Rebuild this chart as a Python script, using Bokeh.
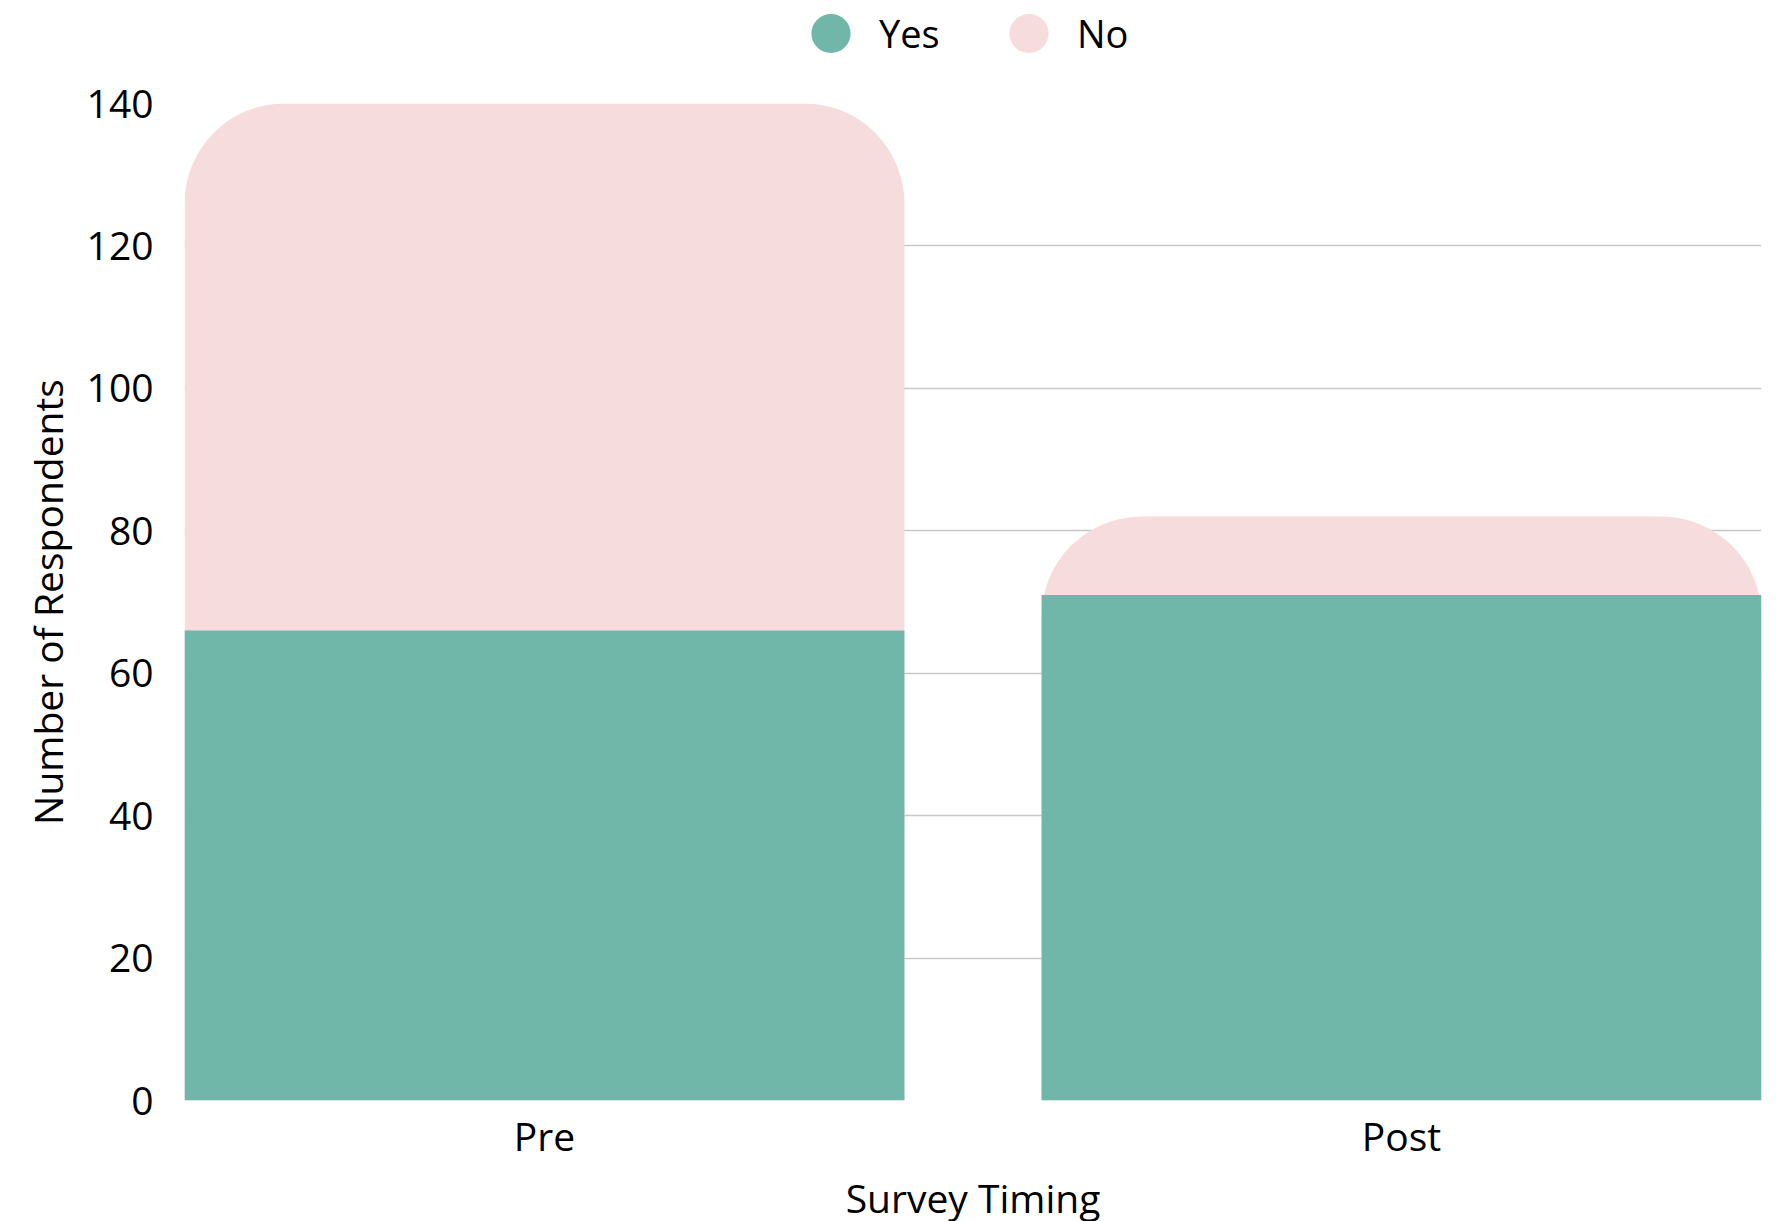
from bokeh.plotting import figure
from bokeh.layouts import column
from bokeh.models import (ColumnDataSource, Range1d, FixedTicker, Legend, LegendItem)
from bokeh.embed import file_html
from bokeh.resources import INLINE

# ---- data ----
categories = ["Pre", "Post"]
yes_counts = [66, 71]
no_counts = [74, 11]
series_names = ["Yes", "No"]
y_ticks = [0, 20, 40, 60, 80, 100, 120, 140]

GREEN = "#70B7A9"
PINK = "#F7DCDE"
FONT = "Open Sans"
TOTAL_W = 1768

xpos = list(range(len(categories)))
totals = [a + b for a, b in zip(yes_counts, no_counts)]
src = ColumnDataSource(dict(x=xpos, cat=categories, yes=yes_counts, no=no_counts, total=totals))

# ---- legend strip (separate small figure above the chart) ----
lf = figure(width=TOTAL_W, height=66, x_axis_type=None, y_axis_type=None,
            x_range=Range1d(0, 1), y_range=Range1d(0, 1),
            output_backend="svg", toolbar_location=None,
            min_border_left=0, min_border_right=0, min_border_top=0, min_border_bottom=0)
lf.outline_line_color = None
lf.xgrid.visible = False
lf.ygrid.visible = False
# hidden proxy renderers, only used to draw the circular legend swatches
proxy = ColumnDataSource(dict(x=[0.5], y=[0.5]))
lg_yes = lf.scatter(x="x", y="y", source=proxy, marker="circle", fill_color=GREEN, line_color=None, visible=False)
lg_no = lf.scatter(x="x", y="y", source=proxy, marker="circle", fill_color=PINK, line_color=None, visible=False)
legend = Legend(items=[LegendItem(label=series_names[0], renderers=[lg_yes]),
                       LegendItem(label=series_names[1], renderers=[lg_no])],
                orientation="horizontal", location="center",
                glyph_width=98, glyph_height=98, label_standoff=0, label_width=87, spacing=13,
                padding=0, margin=0, border_line_color=None, background_fill_alpha=0,
                label_text_font=FONT, label_text_font_size="38px", label_text_color="#000000")
lf.add_layout(legend, "center")

# ---- main chart ----
BAR_W = 0.84
p = figure(frame_width=1577, frame_height=997,
           x_range=Range1d(-BAR_W / 2, len(categories) - 1 + BAR_W / 2),
           y_range=Range1d(0, 140),
           output_backend="svg", toolbar_location=None,
           min_border_left=184, min_border_right=TOTAL_W - 184 - 1577,
           min_border_top=37, min_border_bottom=110)
p.outline_line_color = None

# stacked bars: full stack (No colour) with rounded top corners, Yes drawn over it
p.vbar(x="x", top="total", bottom=0, width=BAR_W, source=src,
       fill_color=PINK, line_color=None, border_radius=(100, 100, 0, 0))
p.vbar(x="x", top="yes", bottom=0, width=BAR_W, source=src,
       fill_color=GREEN, line_color=None)

# axes
p.xaxis.ticker = FixedTicker(ticks=xpos)
p.xaxis.major_label_overrides = {i: c for i, c in zip(xpos, categories)}
p.yaxis.ticker = FixedTicker(ticks=y_ticks)
for ax in (p.xaxis[0], p.yaxis[0]):
    ax.axis_line_color = None
    ax.major_tick_line_color = None
    ax.minor_tick_line_color = None
    ax.major_tick_out = 0
    ax.major_tick_in = 0
    ax.major_label_text_font = FONT
    ax.major_label_text_font_size = "39px"
    ax.major_label_text_color = "#000000"
    ax.axis_label_text_font = FONT
    ax.axis_label_text_font_size = "39px"
    ax.axis_label_text_font_style = "normal"
    ax.axis_label_text_color = "#000000"

p.xaxis.axis_label = "Survey Timing"
p.yaxis.axis_label = "Number of Respondents"
p.xaxis.major_label_standoff = 8
p.xaxis.axis_label_standoff = 6
p.yaxis.major_label_standoff = 31
p.yaxis.axis_label_standoff = 10

p.xgrid.grid_line_color = None
p.ygrid.grid_line_color = "#c8c8c8"
p.ygrid.grid_line_width = 1.5

layout = column(lf, p, spacing=0)
open("out.html", "w").write(file_html(layout, INLINE))
